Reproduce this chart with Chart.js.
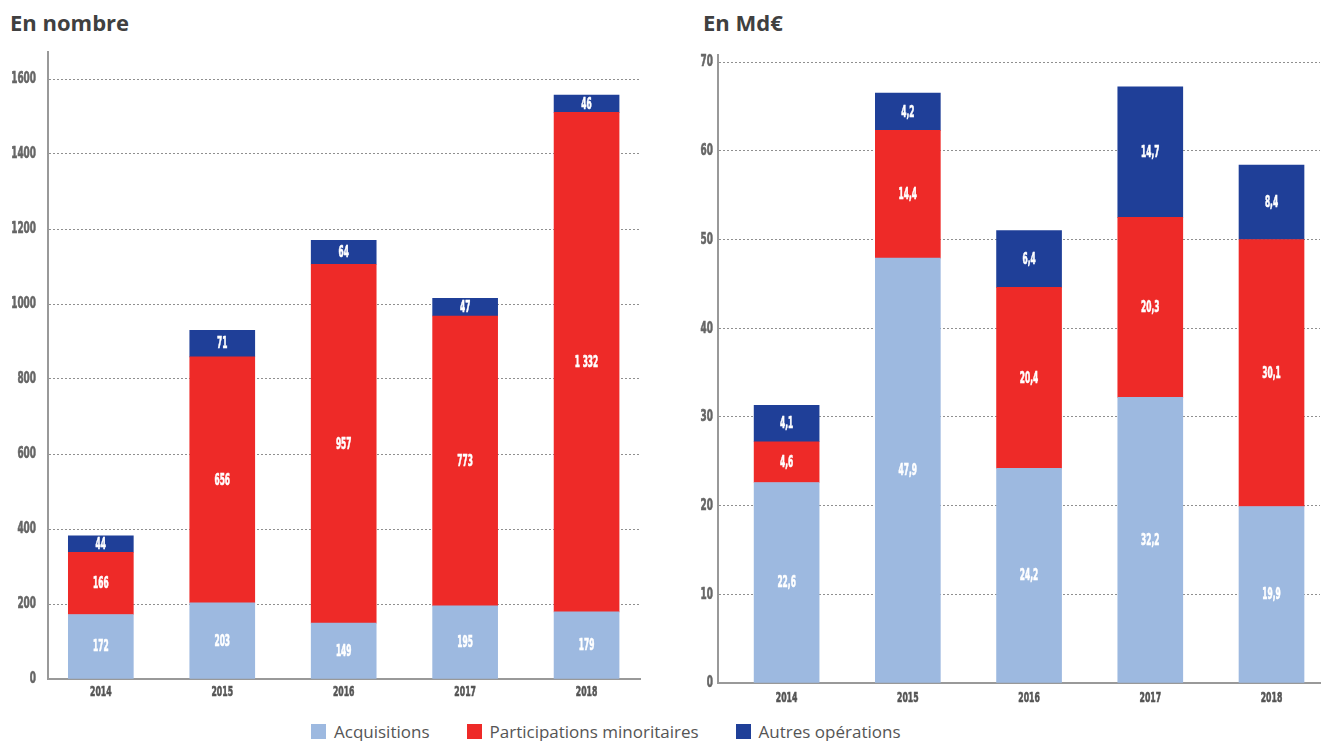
<!DOCTYPE html>
<html lang="fr">
<head>
<meta charset="utf-8">
<script src="https://cdn.jsdelivr.net/npm/chart.js@4.4.0/dist/chart.umd.min.js"></script>
<style>
body{margin:0;width:1321px;height:741px;background:#fff;position:relative;overflow:hidden}
.title{position:absolute;top:7px;font:700 22px 'Open Sans',sans-serif;color:#404040;letter-spacing:0}
.box{position:absolute;top:0;height:712px}
#legend{position:absolute;left:311px;top:720px;display:flex;align-items:center;font:17px 'Open Sans',sans-serif;color:#555}
#legend .item{display:flex;align-items:center;margin-right:37px}
#legend .sq{width:15px;height:15px;margin-right:8px}
</style>
</head>
<body>
<div class="title" style="left:10px">En nombre</div>
<div class="title" style="left:703px">En Md€</div>
<div class="box" style="left:0;width:660px"><canvas id="chart-count"></canvas></div>
<div class="box" style="left:660px;width:661px"><canvas id="chart-value"></canvas></div>
<div id="legend"></div>
<script>
const YEARS=["2014","2015","2016","2017","2018"];
const SERIES=["Acquisitions","Participations minoritaires","Autres opérations"];
const COLORS=["#9db9e0","#ee2a28","#1f3f98"];

// nombre d'opérations
const COUNT_ACQ=[172,203,149,195,179];
const COUNT_MIN=[166,656,957,773,1332];
const COUNT_OTH=[44,71,64,47,46];
const COUNT_TICKS=[0,200,400,600,800,1000,1200,1400,1600];

// montants en Md€
const VALUE_ACQ=[22.6,47.9,24.2,32.2,19.9];
const VALUE_MIN=[4.6,14.4,20.4,20.3,30.1];
const VALUE_OTH=[4.1,4.2,6.4,14.7,8.4];
const VALUE_TICKS=[0,10,20,30,40,50,60,70];

const NARROW="'Liberation Sans Narrow','DejaVu Sans Condensed',sans-serif";
const fmtCount=v=>v>=1000?`${Math.floor(v/1000)} ${String(v%1000).padStart(3,"0")}`:String(v);
const fmtValue=v=>v.toFixed(1).replace(".",",");

// condensed text: squeeze horizontally so one digit is `digitW` px wide
function narrowText(ctx,txt,x,y,size,digitW,color,align,baseline){
  ctx.save();
  ctx.font=`bold ${size}px ${NARROW}`;
  const k=digitW/ctx.measureText("0").width;
  ctx.translate(x,y);
  ctx.scale(k,1);
  ctx.fillStyle=color;
  ctx.strokeStyle=color;
  ctx.lineWidth=0.6;
  ctx.textAlign=align;
  ctx.textBaseline=baseline;
  ctx.fillText(txt,0,0);
  ctx.strokeText(txt,0,0);
  ctx.restore();
}

// white value centered in each stacked segment, plus condensed axis labels
const narrowLabels={
  id:"narrowLabels",
  afterDatasetsDraw(chart,args,opts){
    const ctx=chart.ctx;
    chart.data.datasets.forEach((ds,di)=>{
      const meta=chart.getDatasetMeta(di);
      if(meta.hidden)return;
      meta.data.forEach((bar,i)=>{
        const {x,y,base}=bar.getProps(["x","y","base"],true);
        narrowText(ctx,opts.format(ds.data[i].y),x,(y+base)/2+1,15,5.2,"#fff","center","middle");
      });
    });
    const xs=chart.scales.x,ys=chart.scales.y;
    YEARS.forEach((yr,i)=>narrowText(ctx,yr,xs.getPixelForValue(i),xs.top+opts.xpad,14,5.4,"#555","center","top"));
    opts.ticks.forEach(v=>narrowText(ctx,String(v),ys.right-opts.ypad,ys.getPixelForValue(v)+0.5,15,6.2,"#666","right","middle"));
  }
};

function mkDatasets(arrs){
  return arrs.map((a,k)=>({label:SERIES[k],data:a.map((v,i)=>({x:i,y:v})),backgroundColor:COLORS[k],
    stack:"s",barThickness:65,borderWidth:0}));
}

function mkChart(id,cfg){
  return new Chart(document.getElementById(id),{
    type:"bar",
    data:{datasets:mkDatasets(cfg.series)},
    plugins:[narrowLabels],
    options:{
      responsive:true,maintainAspectRatio:false,animation:false,
      layout:{padding:{left:0,top:cfg.top,right:cfg.right,bottom:0}},
      plugins:{legend:{display:false},tooltip:{enabled:false},
        narrowLabels:{format:cfg.format,ticks:cfg.ticks,xpad:cfg.xpad,ypad:cfg.ypad}},
      scales:{
        x:{type:"linear",stacked:true,offset:false,min:cfg.xmin,max:cfg.xmax,
          afterBuildTicks:s=>{s.ticks=YEARS.map((_,i)=>({value:i}));},
          afterFit:s=>{s.height=cfg.xh;},
          grid:{display:false,offset:false},
          border:{display:true,color:"#999",width:2},
          ticks:{display:false}},
        y:{stacked:true,min:0,max:cfg.ymax,
          afterBuildTicks:s=>{s.ticks=cfg.ticks.map(v=>({value:v}));},
          afterFit:s=>{s.width=cfg.yw;},
          grid:{color:"#8f8f8f",lineWidth:1,drawTicks:false},
          border:{display:true,color:"#999",width:2,dash:[2,2]},
          ticks:{display:false}}
      }
    }
  });
}

mkChart("chart-count",{series:[COUNT_ACQ,COUNT_MIN,COUNT_OTH],ticks:COUNT_TICKS,ymax:1672,
  xmin:-0.435,xmax:4.44,top:52,right:20,xh:33,yw:48,xpad:6,ypad:12,format:fmtCount});
mkChart("chart-value",{series:[VALUE_ACQ,VALUE_MIN,VALUE_OTH],ticks:VALUE_TICKS,ymax:70.8,
  xmin:-0.566,xmax:4.4,top:55,right:1,xh:29,yw:58,xpad:8,ypad:5,format:fmtValue});

document.getElementById("legend").innerHTML=SERIES.map((s,k)=>
  `<div class="item"><div class="sq" style="background:${COLORS[k]}"></div><span>${s}</span></div>`).join("");
</script>
</body>
</html>
